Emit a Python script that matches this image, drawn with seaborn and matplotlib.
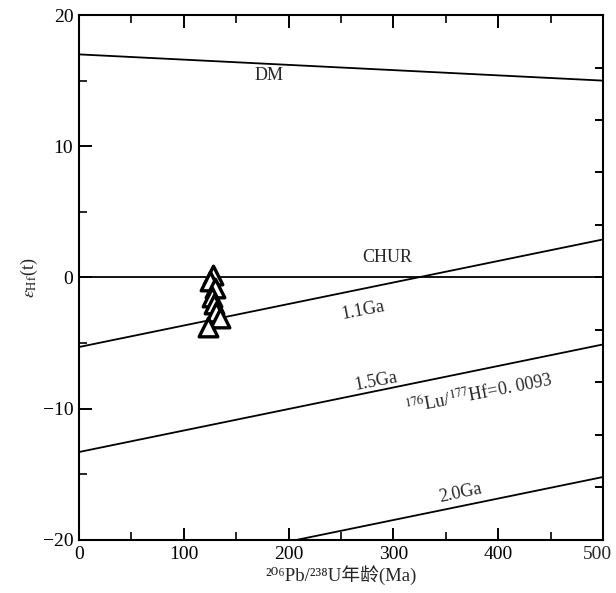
import matplotlib
matplotlib.use("Agg")
import matplotlib.pyplot as plt
import seaborn as sns
import pandas as pd
import numpy as np

# ---- data ----
age_ends = [0, 500]
dm_vals = [17.0, 15.0]
chur_vals = [0.0, 0.0]
ga11_vals = [-5.3, 2.9]
ga15_vals = [-13.3, -5.1]
ga20_vals = [-23.4, -15.2]

sample_age = [128, 125, 130, 127, 129, 131, 135, 123]
sample_ehf = [0.2, -0.3, -0.8, -1.5, -2.0, -2.6, -3.1, -3.8]

xticks_major = [0, 100, 200, 300, 400, 500]
xtick_labels = ['0', '100', '200', '300', '400', '500']
yticks_major = [-20, -10, 0, 10, 20]

sns.set_theme(style="white")
plt.rcParams['font.family'] = ['Liberation Serif', 'DejaVu Serif', 'Noto Sans CJK SC']
plt.rcParams['mathtext.fontset'] = 'stix'

fig = plt.figure(figsize=(6.16, 5.93), dpi=100)
ax = fig.add_axes([0.128, 0.0894, 0.851, 0.8853])

lines = pd.DataFrame({
    'age': age_ends * 5,
    'ehf': dm_vals + chur_vals + ga11_vals + ga15_vals + ga20_vals,
    'curve': ['DM'] * 2 + ['CHUR'] * 2 + ['1.1Ga'] * 2 + ['1.5Ga'] * 2 + ['2.0Ga'] * 2,
})
sns.lineplot(data=lines, x='age', y='ehf', units='curve', estimator=None,
             color='black', linewidth=1.3, ax=ax, legend=False)

pts = pd.DataFrame({'age': sample_age, 'ehf': sample_ehf})
sns.scatterplot(data=pts, x='age', y='ehf', marker='^', s=180,
                facecolor='white', edgecolor='black', linewidth=2.4,
                ax=ax, zorder=5, legend=False)

ax.set_xlim(0, 500)
ax.set_ylim(-20, 20)
ax.set_xticks(xticks_major)
ax.set_xticklabels(xtick_labels[:-1] + [''])
ax.set_xticks([50, 150, 250, 350, 450], minor=True)
ax.set_yticks(yticks_major)
ax.set_yticks([-15, -5, 5, 15], minor=True)
ax.set_yticklabels(['\u221220', '\u221210', '0', '10', '20'])
ax.tick_params(which='major', direction='in', length=9, width=1.4,
               labelsize=14, top=True, bottom=True, left=True, right=False,
               pad=4, colors='black')
ax.tick_params(which='minor', direction='in', length=5.5, width=1.4,
               top=True, bottom=True, left=True, right=False)
for s in ax.spines.values():
    s.set_linewidth(1.5)
    s.set_color('black')

# last x tick label, nudged left so it stays inside the figure
ax.annotate(xtick_labels[-1], xy=(xticks_major[-1], -20), xycoords='data',
            xytext=(-4, -4), textcoords='offset points',
            ha='center', va='top', fontsize=14, annotation_clip=False)

# right-side ticks
axr = ax.twinx()
axr.set_ylim(-20, 20)
axr.set_yticks(list(range(-16, 17, 4)))
axr.set_yticklabels([])
axr.tick_params(axis='y', direction='in', length=6, width=1.4, right=True, colors='black')
for s in axr.spines.values():
    s.set_visible(False)

ax.set_xlabel('\u00b2\u2070\u2076Pb/\u00b2\u00b3\u2078U年龄(Ma)', fontsize=13.5, labelpad=2,
              family=['Liberation Serif', 'DejaVu Serif', 'Noto Sans CJK SC'])
ax.set_ylabel(r'$\varepsilon_{\rm Hf}$(t)', fontsize=13, labelpad=2)

ax.text(181, 15.4, 'DM', fontsize=13, ha='center', va='center')
ax.text(294, 1.5, 'CHUR', fontsize=13, ha='center', va='center')
ax.text(271, -2.5, '1.1Ga', fontsize=13, ha='center', va='center', rotation=11)
ax.text(283, -7.9, '1.5Ga', fontsize=13, ha='center', va='center', rotation=11)
ax.text(381, -8.9, '$^{176}$Lu/$^{177}$Hf=0. 0093', fontsize=13, ha='center',
        va='center', rotation=11)
ax.text(364, -16.4, '2.0Ga', fontsize=13, ha='center', va='center', rotation=12)

fig.savefig('out.png', dpi=100)
